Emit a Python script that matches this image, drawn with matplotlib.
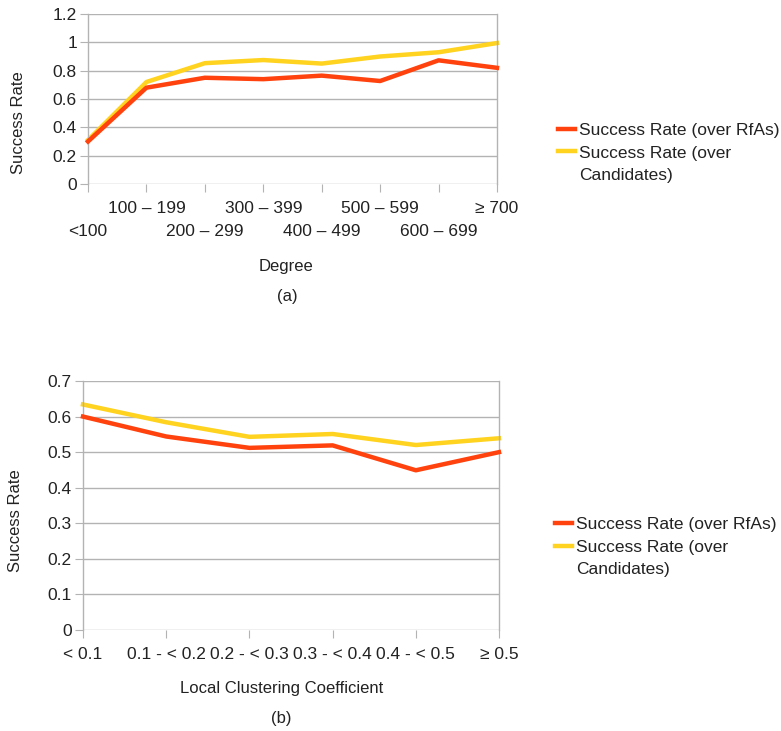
import matplotlib
matplotlib.use("Agg")
import matplotlib.pyplot as plt
from matplotlib.lines import Line2D

plt.rcParams['font.family'] = ['Liberation Sans', 'DejaVu Sans']

# panel (a): degree
degree_cats = ['<100', '100 – 199', '200 – 299', '300 – 399',
               '400 – 499', '500 – 599', '600 – 699', '≥ 700']
deg_rfas = [0.30, 0.68, 0.75, 0.74, 0.765, 0.727, 0.873, 0.82]
deg_cands = [0.31, 0.72, 0.853, 0.875, 0.85, 0.90, 0.93, 0.995]

# panel (b): local clustering coefficient
lcc_cats = ['< 0.1', '0.1 - < 0.2', '0.2 - < 0.3', '0.3 - < 0.4',
            '0.4 - < 0.5', '≥ 0.5']
lcc_rfas = [0.600, 0.544, 0.512, 0.519, 0.449, 0.500]
lcc_cands = [0.634, 0.584, 0.543, 0.551, 0.520, 0.539]

# second label wraps onto a third legend row
legend_rows = ['Success Rate (over RfAs)', 'Success Rate (over', 'Candidates)']
RED = '#ff420e'
YEL = '#ffd320'
GRID = '#b3b3b3'
TXT = '#222222'

W, H = 781, 731
fig = plt.figure(figsize=(W / 100, H / 100), dpi=100)


def px_axes(l, t, r, b):
    return fig.add_axes([l / W, 1 - b / H, (r - l) / W, (b - t) / H])


def style(ax, ymax, ystep, n):
    ax.set_xlim(0, n - 1)
    ax.set_ylim(0, ymax)
    ticks = [round(i * ystep, 2) for i in range(int(round(ymax / ystep)) + 1)]
    ax.set_yticks(ticks)
    ax.set_yticklabels(['%g' % t for t in ticks])
    ax.yaxis.grid(True, color=GRID, lw=1)
    ax.set_axisbelow(True)
    for s in ['top', 'bottom']:
        ax.spines[s].set_visible(False)
    for s in ['left', 'right']:
        ax.spines[s].set_color(GRID)
        ax.spines[s].set_linewidth(1)
    ax.tick_params(axis='y', length=6, color=GRID, labelsize=12.5, labelcolor=TXT, pad=2)
    ax.tick_params(axis='x', length=6, color=GRID, labelsize=12.5, labelcolor=TXT, pad=6.5)


def legend(handles, x, y):
    blank = Line2D([], [], color='none')
    fig.legend(handles=handles + [blank], labels=legend_rows, loc='center left',
               bbox_to_anchor=(x / W, 1 - y / H), frameon=False, fontsize=12.5,
               handlelength=1.0, handletextpad=0.2, borderpad=0, borderaxespad=0,
               labelspacing=0.4, labelcolor=TXT)


# ---- (a)
ax1 = px_axes(88, 14, 497, 184)
x1 = list(range(len(degree_cats)))
l1 = ax1.plot(x1, deg_rfas, color=RED, lw=3.2, zorder=3, clip_on=False)
l2 = ax1.plot(x1, deg_cands, color=YEL, lw=3.2, zorder=2, clip_on=False)
style(ax1, 1.2, 0.2, len(degree_cats))
ax1.set_xticks(x1)
ax1.set_xticklabels(degree_cats)
for i, t in enumerate(ax1.xaxis.get_major_ticks()):
    t.set_pad(6.5 if i % 2 else 23)
fig.text(19 / W, 1 - 123 / H, 'Success Rate', rotation=90, ha='center', va='center',
         fontsize=12, color=TXT)
fig.text(286 / W, 1 - 266 / H, 'Degree', ha='center', va='center', fontsize=12, color=TXT)
fig.text(287 / W, 1 - 296 / H, '(a)', ha='center', va='center', fontsize=12, color=TXT)
legend(l1 + l2, 558, 153)

# ---- (b)
ax2 = px_axes(83, 381, 499, 630)
x2 = list(range(len(lcc_cats)))
m1 = ax2.plot(x2, lcc_rfas, color=RED, lw=3.2, zorder=3, clip_on=False)
m2 = ax2.plot(x2, lcc_cands, color=YEL, lw=3.2, zorder=2, clip_on=False)
style(ax2, 0.7, 0.1, len(lcc_cats))
ax2.set_xticks(x2)
ax2.set_xticklabels(lcc_cats)
fig.text(16 / W, 1 - 521 / H, 'Success Rate', rotation=90, ha='center', va='center',
         fontsize=12, color=TXT)
fig.text(282 / W, 1 - 689 / H, 'Local Clustering Coefficient', ha='center', va='center',
         fontsize=12, color=TXT)
fig.text(281 / W, 1 - 718 / H, '(b)', ha='center', va='center', fontsize=12, color=TXT)
legend(m1 + m2, 555, 547)

fig.savefig('out.png', dpi=100, facecolor='white')
